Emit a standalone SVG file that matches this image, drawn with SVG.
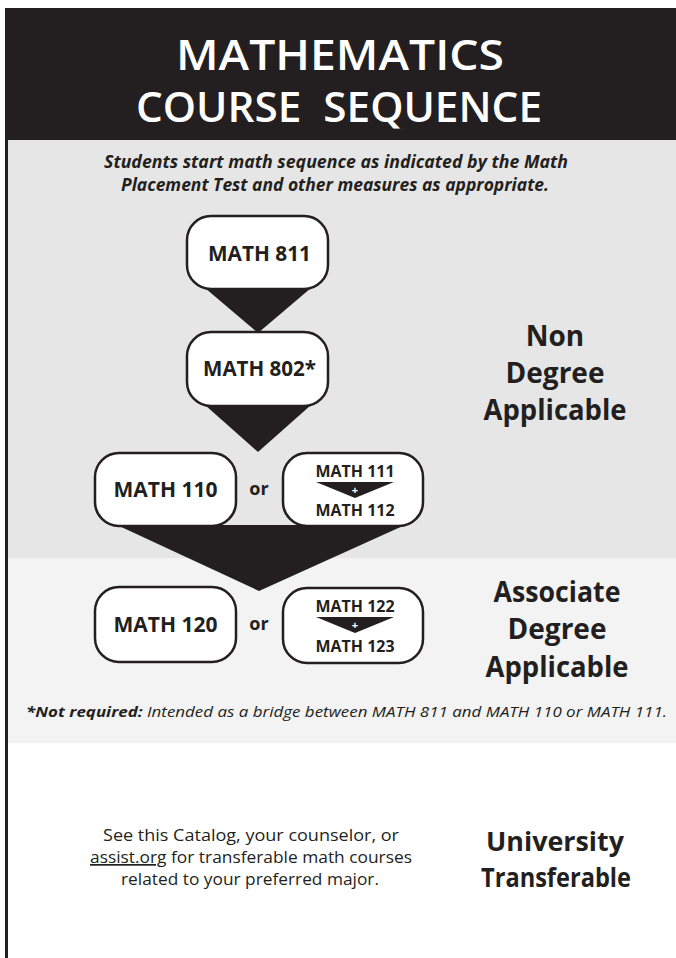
<svg xmlns="http://www.w3.org/2000/svg" width="676" height="958" viewBox="0 0 676 958">
<style>
  .ink { fill: #231f20; }
  .title { font-family: "Open Sans", "Liberation Sans", sans-serif; font-weight: 600; font-size: 42px; fill: #ffffff; text-anchor: middle; white-space: pre; }
  .intro { font-family: "Open Sans", "Liberation Sans", sans-serif; font-weight: 700; font-style: italic; font-size: 18px; fill: #231f20; text-anchor: middle; }
  .box { fill: #ffffff; stroke: #231f20; stroke-width: 2.5; }
  .lbl { font-family: "Open Sans", "Liberation Sans", sans-serif; font-weight: 700; font-size: 21px; fill: #231f20; text-anchor: middle; }
  .lbls { font-family: "Open Sans", "Liberation Sans", sans-serif; font-weight: 700; font-size: 16px; fill: #231f20; text-anchor: middle; }
  .plus { font-family: "Open Sans", "Liberation Sans", sans-serif; font-weight: 700; font-size: 11px; fill: #ffffff; text-anchor: middle; }
  .or { font-family: "Open Sans", "Liberation Sans", sans-serif; font-weight: 700; font-size: 18px; fill: #231f20; text-anchor: middle; }
  .cat { font-family: "Open Sans", "Liberation Sans", sans-serif; font-weight: 700; font-size: 28px; fill: #231f20; text-anchor: middle; }
  .cat2 { font-family: "Open Sans", "Liberation Sans", sans-serif; font-weight: 700; font-size: 27px; fill: #231f20; text-anchor: middle; }
  .foot { font-family: "Open Sans", "Liberation Sans", sans-serif; font-style: italic; font-weight: 400; font-size: 15px; fill: #231f20; }
  .para { font-family: "Open Sans", "Liberation Sans", sans-serif; font-weight: 400; font-size: 17px; fill: #231f20; text-anchor: middle; }
  .conn { fill: #231f20; }
</style>

<!-- backgrounds -->
<rect x="0" y="0" width="676" height="958" fill="#ffffff"/>
<rect x="5" y="140" width="671" height="418" fill="#e6e6e6"/>
<rect x="5" y="558" width="671" height="185" fill="#f3f3f3"/>
<rect x="5" y="8" width="671" height="132" class="ink"/>
<rect x="5" y="8" width="3" height="950" class="ink"/>

<!-- header -->
<g id="header">
  <text class="title" x="340" y="70" textLength="328" lengthAdjust="spacingAndGlyphs">MATHEMATICS</text>
  <text class="title" x="339" y="122" textLength="406" lengthAdjust="spacingAndGlyphs">COURSE  SEQUENCE</text>
</g>

<g id="intro">
  <text class="intro" x="336" y="168" textLength="464" lengthAdjust="spacingAndGlyphs">Students start math sequence as indicated by the Math</text>
  <text class="intro" x="335" y="191" textLength="428" lengthAdjust="spacingAndGlyphs">Placement Test and other measures as appropriate.</text>
</g>

<!-- connectors -->
<g id="connectors">
  <polygon class="conn" points="205,288 311,288 258,333"/>
  <polygon class="conn" points="205,405 311,405 258,452"/>
  <polygon class="conn" points="117,525 405,525 259,591"/>
</g>

<!-- nodes -->
<g id="math811">
  <rect class="box" x="187" y="216" width="141" height="73" rx="24"/>
  <text class="lbl" x="259.5" y="261" textLength="103" lengthAdjust="spacingAndGlyphs">MATH 811</text>
</g>
<g id="math802">
  <rect class="box" x="187" y="332" width="141" height="74" rx="24"/>
  <text class="lbl" x="259.5" y="376" textLength="113" lengthAdjust="spacingAndGlyphs">MATH 802*</text>
</g>
<g id="math110">
  <rect class="box" x="95" y="453" width="141" height="73" rx="24"/>
  <text class="lbl" x="165.5" y="497" textLength="104" lengthAdjust="spacingAndGlyphs">MATH 110</text>
</g>
<g id="or1">
  <text class="or" x="259" y="495">or</text>
</g>
<g id="math111_112">
  <rect class="box" x="283" y="453" width="140" height="73" rx="24"/>
  <text class="lbls" x="355" y="477" textLength="79" lengthAdjust="spacingAndGlyphs">MATH 111</text>
  <polygon class="conn" points="316,482 394,482 355,498"/>
  <text class="plus" x="355" y="494">+</text>
  <text class="lbls" x="355" y="516" textLength="79" lengthAdjust="spacingAndGlyphs">MATH 112</text>
</g>
<g id="math120">
  <rect class="box" x="95" y="587" width="141" height="75" rx="24"/>
  <text class="lbl" x="165.5" y="632" textLength="104" lengthAdjust="spacingAndGlyphs">MATH 120</text>
</g>
<g id="or2">
  <text class="or" x="259" y="630">or</text>
</g>
<g id="math122_123">
  <rect class="box" x="283" y="588" width="140" height="75" rx="24"/>
  <text class="lbls" x="355" y="612" textLength="79" lengthAdjust="spacingAndGlyphs">MATH 122</text>
  <polygon class="conn" points="316,617 394,617 355,633"/>
  <text class="plus" x="355" y="629">+</text>
  <text class="lbls" x="355" y="652" textLength="79" lengthAdjust="spacingAndGlyphs">MATH 123</text>
</g>

<!-- category labels -->
<g id="nonDegree">
  <text class="cat" x="555" y="346">Non</text>
  <text class="cat" x="555" y="383">Degree</text>
  <text class="cat" x="555" y="420" textLength="143" lengthAdjust="spacingAndGlyphs">Applicable</text>
</g>
<g id="associateDegree">
  <text class="cat" x="557" y="602" textLength="127" lengthAdjust="spacingAndGlyphs">Associate</text>
  <text class="cat" x="557" y="639">Degree</text>
  <text class="cat" x="557" y="677" textLength="143" lengthAdjust="spacingAndGlyphs">Applicable</text>
</g>

<g id="footnote">
  <text class="foot" x="26" y="717" textLength="641" lengthAdjust="spacingAndGlyphs"><tspan font-weight="700">*Not required:</tspan> Intended as a bridge between MATH 811 and MATH 110 or MATH 111.</text>
</g>

<g id="transfer">
  <text class="para" x="251" y="841" textLength="296" lengthAdjust="spacingAndGlyphs">See this Catalog, your counselor, or</text>
  <text class="para" x="251" y="863" textLength="322" lengthAdjust="spacingAndGlyphs"><tspan text-decoration="underline">assist.org</tspan> for transferable math courses</text>
  <text class="para" x="250" y="885" textLength="258" lengthAdjust="spacingAndGlyphs">related to your preferred major.</text>
</g>
<g id="university">
  <text class="cat2" x="555" y="851" textLength="138" lengthAdjust="spacingAndGlyphs">University</text>
  <text class="cat2" x="556" y="887" textLength="150" lengthAdjust="spacingAndGlyphs">Transferable</text>
</g>
</svg>
